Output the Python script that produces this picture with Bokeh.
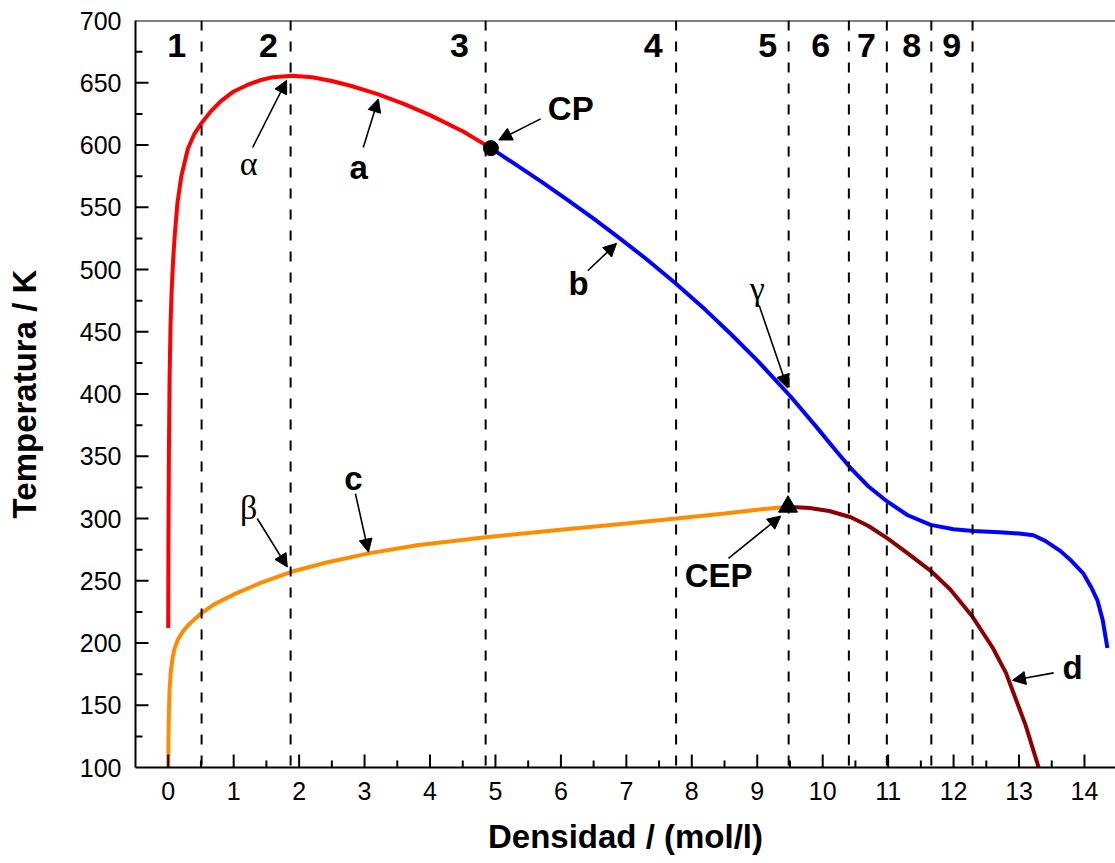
from bokeh.plotting import figure
from bokeh.models import (ColumnDataSource, Span, Arrow, NormalHead, Range1d,
                          SingleIntervalTicker)
from bokeh.core.properties import value
from bokeh.embed import file_html
from bokeh.resources import INLINE

# ---- data ----
red_x = [0.0, 0.003, 0.01, 0.02, 0.035, 0.05, 0.075, 0.1, 0.14, 0.2, 0.3, 0.4, 0.5, 0.65, 0.8,
         1.0, 1.2, 1.4, 1.6, 1.9, 2.2, 2.5, 2.8, 3.2, 3.6, 4.0, 4.5, 4.93]
red_y = [212, 280, 350, 410, 455, 480, 508, 528, 553, 575, 597, 609, 617, 627, 635,
         643, 648, 652, 654.5, 655.7, 654.4, 651.4, 647.4, 640.8, 633.0, 624.0, 611.0, 597.5]

blue_x = [4.93, 5.3, 5.7, 6.1, 6.5, 6.9, 7.3, 7.75, 8.2, 8.6, 9.0, 9.5, 9.9, 10.2, 10.43,
          10.7, 10.99, 11.3, 11.65, 12.0, 12.3, 12.7, 13.0, 13.22, 13.4, 13.63, 13.8, 13.98,
          14.1, 14.2, 14.28, 14.35]
blue_y = [597.5, 584.6, 570.6, 556, 540.8, 525, 508.6, 489, 468, 448, 427, 398.6, 373.8, 354.6, 340.3,
          325.7, 313.5, 302.6, 294.9, 291.4, 289.9, 288.9, 288, 286.5, 282, 274, 266, 256,
          245, 234, 218, 196]

orange_x = [0.0, 0.004, 0.01, 0.02, 0.04, 0.07, 0.1, 0.15, 0.22, 0.3, 0.4, 0.51, 0.7, 1.0, 1.4,
            1.87, 2.4, 3.06, 3.8, 4.85, 6.0, 7.0, 7.76, 8.5, 9.0, 9.47]
orange_y = [100, 125, 145, 162, 178, 189, 196, 203, 209, 214, 219, 224, 231, 239, 248,
            257, 264.5, 272, 278.5, 285, 291, 296, 300, 304, 307, 309.5]

dred_x = [9.47, 9.8, 10.1, 10.43, 10.7, 10.99, 11.3, 11.65, 11.95, 12.29, 12.6, 12.8, 12.95, 13.1, 13.3]
dred_y = [309.5, 308.5, 306, 301, 294, 284, 272, 258, 243, 221, 196, 176, 155, 134, 100]

boundaries = [0.51, 1.87, 4.85, 7.76, 9.48, 10.4, 10.98, 11.66, 12.29]
region_labels = ["1", "2", "3", "4", "5", "6", "7", "8", "9"]
region_x = [0.13, 1.53, 4.45, 7.41, 9.16, 9.97, 10.67, 11.36, 11.97]
region_y = [680] * 9

cp_x, cp_y = [4.93], [597.5]
cep_x, cep_y = [9.47], [309.5]

# annotations: label text, label position, arrow tail, arrow head
ann_text = ["α", "a", "CP", "b", "γ", "β", "c", "CEP", "d"]
ann_x = [1.23, 2.91, 6.15, 6.27, 9.0, 1.23, 2.83, 8.41, 13.82]
ann_y = [585, 582, 629, 489, 485, 309, 332, 254, 180]
arr_x0 = [1.29, 2.98, 5.69, 6.41, 9.03, 1.36, 2.86, 8.56, 13.53]
arr_y0 = [598, 598, 621, 499, 471, 300, 320, 268, 176]
arr_x1 = [1.81, 3.21, 5.05, 6.85, 9.46, 1.82, 3.06, 9.36, 12.9]
arr_y1 = [652, 637, 604, 521, 405, 261, 273, 302, 170]
greek = ["α", "γ", "β"]

# tick positions
x_major = [float(v) for v in range(0, 15)]
x_minor = [i + 0.5 for i in range(0, 14)]
y_major = [float(v) for v in range(150, 700, 50)]
y_minor = [float(v) for v in range(125, 700, 50)]
x_lo, x_hi, y_lo, y_hi = -0.5, 14.474, 100.0, 700.0

x_title = "Densidad / (mol/l)"
y_title = "Temperatura / K"

# ---- figure ----
FRAME_W, FRAME_H = 980, 747
p = figure(width=1115, height=863, output_backend="svg", toolbar_location=None,
           x_range=Range1d(x_lo, x_hi), y_range=Range1d(y_lo, y_hi),
           min_border_left=135, min_border_right=0, min_border_top=20, min_border_bottom=96)
p.outline_line_color = None
p.grid.grid_line_color = None

for ax, ticker in ((p.xaxis[0], SingleIntervalTicker(interval=1, num_minor_ticks=2)),
                   (p.yaxis[0], SingleIntervalTicker(interval=50, num_minor_ticks=2))):
    ax.ticker = ticker
    ax.axis_line_width = 2
    ax.axis_line_color = "black"
    ax.major_tick_in = 0
    ax.major_tick_out = 0
    ax.minor_tick_in = 0
    ax.minor_tick_out = 0
    ax.major_label_text_font = "Liberation Sans"
    ax.major_label_text_font_size = "25px"
    ax.major_label_text_color = "black"
    ax.axis_label_text_font = "Liberation Sans"
    ax.axis_label_text_font_style = "bold"
    ax.axis_label_text_font_size = "33px"
    ax.axis_label_text_color = "black"

p.xaxis.axis_label = x_title
p.yaxis.axis_label = y_title
p.xaxis.major_label_standoff = 14
p.xaxis.axis_label_standoff = 15
p.yaxis.major_label_standoff = 14
p.yaxis.axis_label_standoff = 34

# top frame line
p.add_layout(Span(location=y_hi, dimension="width", line_color="black", line_width=2))

# region boundaries
for b in boundaries:
    p.add_layout(Span(location=b, dimension="height", line_color="black",
                      line_width=2, line_dash="10 11"))

# curves
p.line(red_x, red_y, line_color="#FF0000", line_width=4)
p.line(blue_x, blue_y, line_color="#0000FF", line_width=4)
p.line(orange_x, orange_y, line_color="#FF8C00", line_width=4)
p.line(dred_x, dred_y, line_color="#8B0000", line_width=4)

# special points
p.scatter(cp_x, cp_y, marker="circle", size=15, fill_color="black", line_color="black")
p.scatter(cep_x, cep_y, marker="triangle", size=19, fill_color="black", line_color="black")

# region numbers
p.text(region_x, region_y, text=region_labels, text_font=value("Liberation Sans"),
       text_font_style="bold", text_font_size="34px", text_align="center",
       text_baseline="middle", text_color="black")

# arrows
asrc = ColumnDataSource(dict(x0=arr_x0, y0=arr_y0, x1=arr_x1, y1=arr_y1))
p.add_layout(Arrow(end=NormalHead(size=13, fill_color="black", line_color="black"),
                   x_start="x0", y_start="y0", x_end="x1", y_end="y1",
                   source=asrc, line_color="black", line_width=1.6))

# annotation labels
gi = [i for i, t in enumerate(ann_text) if t in greek]
li = [i for i, t in enumerate(ann_text) if t not in greek]
p.text([ann_x[i] for i in gi], [ann_y[i] for i in gi], text=[ann_text[i] for i in gi],
       text_font=value("Liberation Serif"), text_font_size="34px",
       text_align="center", text_baseline="middle", text_color="black")
p.text([ann_x[i] for i in li], [ann_y[i] for i in li], text=[ann_text[i] for i in li],
       text_font=value("Liberation Sans"), text_font_style="bold", text_font_size="33px",
       text_align="center", text_baseline="middle", text_color="black")

# inward tick marks, drawn as head-less arrow annotations
maj_dy = 13 * (y_hi - y_lo) / FRAME_H
min_dy = 7 * (y_hi - y_lo) / FRAME_H
maj_dx = 13 * (x_hi - x_lo) / FRAME_W
min_dx = 7 * (x_hi - x_lo) / FRAME_W
tick_src = ColumnDataSource(dict(
    x0=x_major + x_minor + [x_lo] * (len(y_major) + len(y_minor)),
    x1=x_major + x_minor + [x_lo + maj_dx] * len(y_major) + [x_lo + min_dx] * len(y_minor),
    y0=[y_lo] * (len(x_major) + len(x_minor)) + y_major + y_minor,
    y1=[y_lo + maj_dy] * len(x_major) + [y_lo + min_dy] * len(x_minor) + y_major + y_minor,
))
p.add_layout(Arrow(end=None, start=None, x_start="x0", y_start="y0", x_end="x1", y_end="y1",
                   source=tick_src, line_color="black", line_width=2))

open("out.html", "w").write(file_html(p, INLINE))
